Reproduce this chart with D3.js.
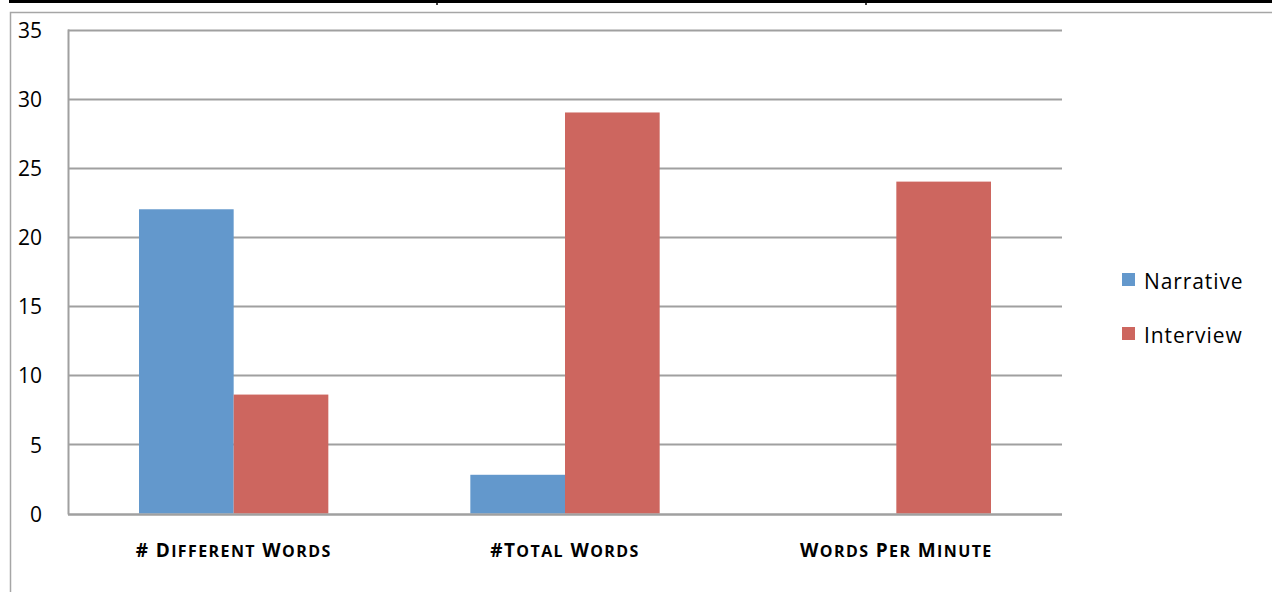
<!DOCTYPE html>
<html>
<head>
<meta charset="utf-8">
<script src="https://cdn.jsdelivr.net/npm/d3@7"></script>
<style>
  html, body { margin: 0; padding: 0; background: #fff; }
  svg { display: block; }
  text { font-family: "Open Sans", Lato, sans-serif; fill: #000; }
</style>
</head>
<body>
<svg id="chart" width="1272" height="592"></svg>
<script>
const categories = ["# Different Words", "#Total Words", "Words Per Minute"];
const seriesNames = ["Narrative", "Interview"];
const narrativeValues = [22, 2.8, 0];
const interviewValues = [8.6, 29, 24];
const yTicks = [0, 5, 10, 15, 20, 25, 30, 35];
const colors = ["#6398cc", "#cd665f"];

const svg = d3.select("#chart");
const W = 1272, H = 592;

// outer page elements (table border above, chart frame)
svg.append("line").attr("x1", 9).attr("x2", W).attr("y1", 1.5).attr("y2", 1.5)
  .attr("stroke", "#000").attr("stroke-width", 3);
[437, 866].forEach(x => svg.append("line").attr("x1", x).attr("x2", x).attr("y1", 0).attr("y2", 5)
  .attr("stroke", "#000").attr("stroke-width", 1.5));
svg.append("path").attr("d", `M10.5,${H} V12.5 H${W}`).attr("fill", "none")
  .attr("stroke", "#a6a6a6").attr("stroke-width", 1.5);

const plot = { left: 68, right: 1062, top: 29.5, bottom: 513.5 };

const x = d3.scaleBand().domain(categories).range([plot.left, plot.right]).paddingInner(0).paddingOuter(0);
const xs = d3.scaleBand().domain(seriesNames).range([0, x.bandwidth()]).paddingInner(0).paddingOuter(0.75);
const y = d3.scaleLinear().domain([0, 35]).range([plot.bottom, plot.top]);

// gridlines
const grid = svg.append("g").attr("class", "grid");
grid.selectAll("line").data(yTicks).join("line")
  .attr("x1", plot.left).attr("x2", plot.right)
  .attr("y1", d => Math.round(y(d)) + 0.5).attr("y2", d => Math.round(y(d)) + 0.5)
  .attr("stroke", "#a0a0a0").attr("stroke-width", 2);

// bars
const series = [narrativeValues, interviewValues];
const g = svg.append("g");
series.forEach((vals, si) => {
  g.selectAll(null).data(vals.map((v, i) => ({ v, c: categories[i] }))).join("rect")
    .attr("x", d => x(d.c) + xs(seriesNames[si]))
    .attr("width", xs.bandwidth())
    .attr("y", d => y(d.v))
    .attr("height", d => y(0) - y(d.v))
    .attr("fill", colors[si]);
});

// y axis line
svg.append("line").attr("x1", plot.left + 0.5).attr("x2", plot.left + 0.5)
  .attr("y1", plot.top).attr("y2", plot.bottom + 1)
  .attr("stroke", "#a0a0a0").attr("stroke-width", 2);
// x axis line
svg.append("line").attr("x1", plot.left).attr("x2", plot.right)
  .attr("y1", Math.round(y(0)) + 0.5).attr("y2", Math.round(y(0)) + 0.5)
  .attr("stroke", "#a0a0a0").attr("stroke-width", 2);

// y axis labels
const yAxis = d3.axisLeft(y).tickValues(yTicks).tickSize(0).tickPadding(0).tickFormat(d3.format("d"));
const yg = svg.append("g").attr("transform", "translate(42,1)").call(yAxis);
yg.select(".domain").remove();
yg.selectAll("text").style("font-size", "21px").style("font-family", "\"Open Sans\", sans-serif").attr("fill", "#000");

// x axis labels (manual small caps)
const xAxis = d3.axisBottom(x).tickSize(0).tickPadding(0);
const xg = svg.append("g").attr("transform", "translate(0,0)").call(xAxis);
xg.select(".domain").remove();
xg.selectAll(".tick text").each(function(d) {
  const t = d3.select(this);
  t.text(null).attr("y", 557).attr("dy", null)
    .style("font-weight", "bold").style("font-family", "\"Open Sans\", sans-serif")
    .style("letter-spacing", "1.4px")
    .attr("text-anchor", "middle").attr("fill", "#000");
  const parts = d.match(/[A-Z#]|[a-z]+|\s+/g) || [];
  parts.forEach(p => {
    const lower = /[a-z]/.test(p);
    t.append("tspan")
      .style("font-size", lower ? "16px" : "19px")
      .text(lower ? p.toUpperCase() : p);
  });
});

// legend
const legend = svg.append("g").attr("transform", "translate(1122,273)");
seriesNames.forEach((name, i) => {
  const row = legend.append("g").attr("transform", `translate(0,${i * 54})`);
  row.append("rect").attr("width", 13).attr("height", 13).attr("fill", colors[i]);
  row.append("text").attr("x", 22).attr("y", 16).text(name).style("font-size", "21px").style("letter-spacing", "0.9px");
});
</script>
</body>
</html>
